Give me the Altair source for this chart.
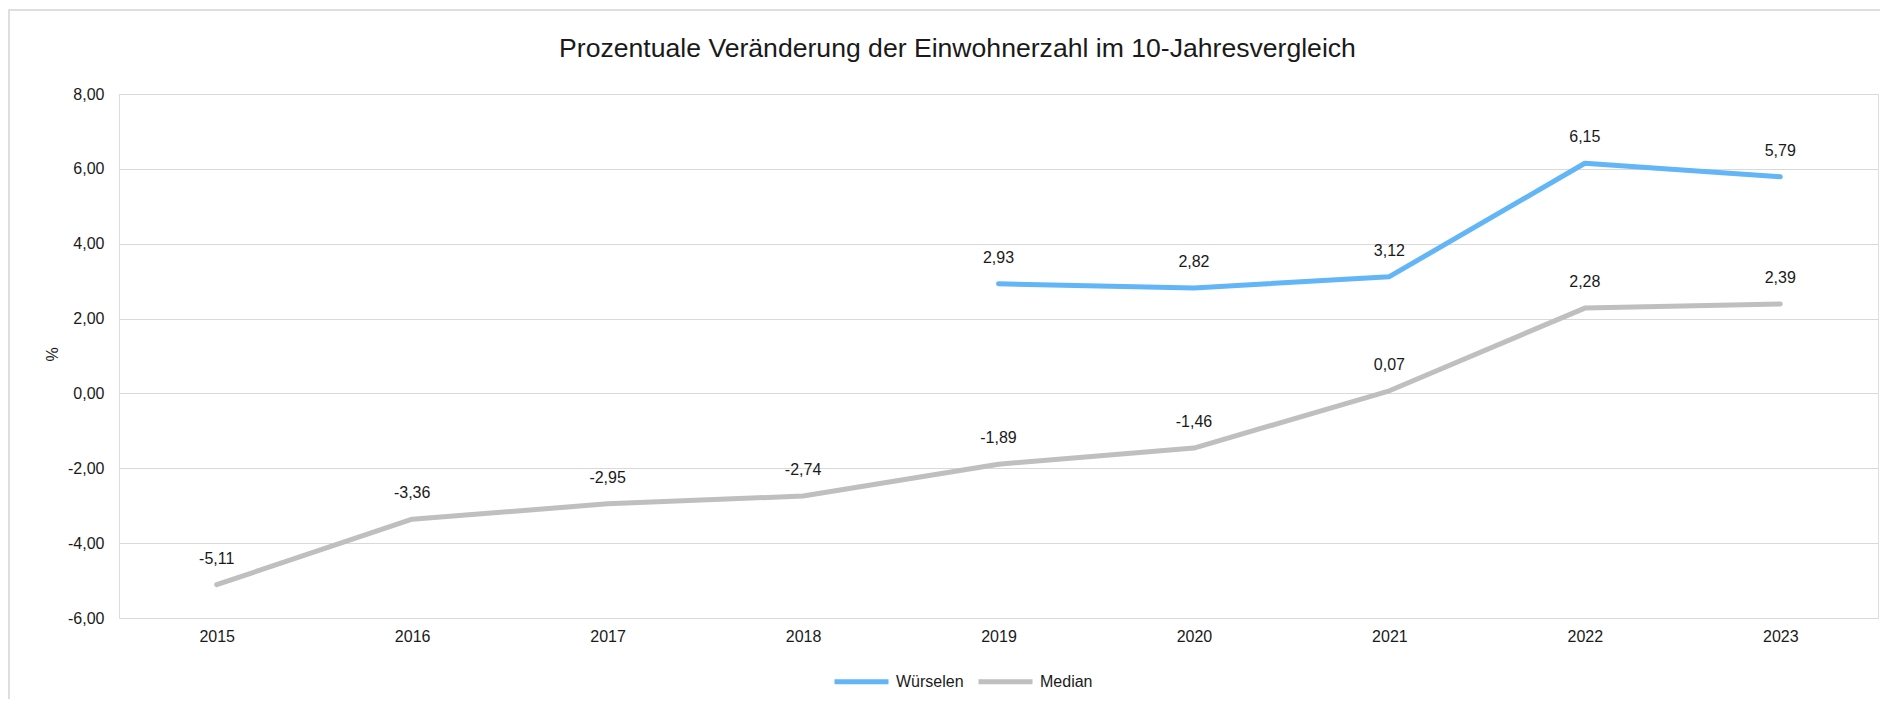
import altair as alt
import pandas as pd

years = ["2015", "2016", "2017", "2018", "2019", "2020", "2021", "2022", "2023"]
wuerselen_years = ["2019", "2020", "2021", "2022", "2023"]
wuerselen = [2.93, 2.82, 3.12, 6.15, 5.79]
median = [-5.11, -3.36, -2.95, -2.74, -1.89, -1.46, 0.07, 2.28, 2.39]
series_names = ["Würselen", "Median"]
series_colors = ["#62B5F6", "#BFBFBF"]
y_ticks = [-6, -4, -2, 0, 2, 4, 6, 8]

rows = [{"Jahr": y, "Wert": v, "Reihe": "Würselen"} for y, v in zip(wuerselen_years, wuerselen)]
rows += [{"Jahr": y, "Wert": v, "Reihe": "Median"} for y, v in zip(years, median)]
df = pd.DataFrame(rows)

FONT = "Liberation Sans"
TXT = "#1A1A1A"
fmt = "replace(replace(format(datum.Wert, '.2f'), '.', ','), '\u2212', '-')"

x_enc = alt.X("Jahr:O", sort=years,
              scale=alt.Scale(type="point", padding=0.5, domain=years),
              axis=alt.Axis(title=None, labelAngle=0, domain=False, ticks=False,
                            labelPadding=10, labelFontSize=16, labelFont=FONT,
                            labelColor=TXT, grid=False))
y_enc = alt.Y("Wert:Q",
              scale=alt.Scale(domain=[-6, 8], nice=False, zero=False),
              axis=alt.Axis(title="%", values=y_ticks, domain=False, ticks=False,
                            labelPadding=15, labelFontSize=16, labelFont=FONT,
                            labelColor=TXT,
                            labelExpr="replace(replace(format(datum.value, '.2f'), '.', ','), '\u2212', '-')",
                            grid=True, gridColor="#D9D9D9", gridWidth=1.2,
                            titleFont=FONT, titleFontSize=16, titleFontWeight="normal",
                            titleColor=TXT, titleX=-67, titleY=260, titleAngle=-90,
                            titleAlign="center", titleBaseline="middle"))

color_enc = alt.Color("Reihe:N",
                      scale=alt.Scale(domain=series_names, range=series_colors),
                      legend=alt.Legend(title=None, orient="none", direction="horizontal",
                                        legendX=713, legendY=558,
                                        symbolType="stroke", symbolSize=2916,
                                        symbolStrokeWidth=5, labelOffset=5,
                                        columnPadding=4, labelFontSize=16,
                                        labelFont=FONT, labelColor=TXT, padding=0))

base = alt.Chart(df)

lines = base.mark_line(strokeWidth=5, strokeCap="round", strokeJoin="round").encode(
    x=x_enc, y=y_enc, color=color_enc, detail="Reihe:N")

labels = base.mark_text(baseline="alphabetic", dy=-21, fontSize=16, font=FONT,
                        color=TXT).transform_calculate(lbl=fmt).encode(
    x=alt.X("Jahr:O", sort=years), y="Wert:Q", text="lbl:N")

border = alt.Chart(pd.DataFrame({"b": [1]})).mark_rect(
    fill=None, stroke="#D4D4D4", strokeWidth=1.5).encode(
    x=alt.value(-110), x2=alt.value(2200), y=alt.value(-84), y2=alt.value(1200))

chart = alt.layer(border, lines, labels).properties(
    width=1759, height=524,
    autosize=alt.AutoSizeParams(type="none"),
    padding={"left": 111, "top": 86, "right": 2, "bottom": 81},
    title=alt.TitleParams("Prozentuale Veränderung der Einwohnerzahl im 10-Jahresvergleich",
                          font=FONT, fontSize=26.6, fontWeight="normal", color=TXT,
                          anchor="middle", frame="group", baseline="alphabetic",
                          offset=-74, dx=-41),
).configure_view(stroke=None).configure(background="white")

chart.save("out.html", embed_options={"renderer": "svg", "actions": False})
